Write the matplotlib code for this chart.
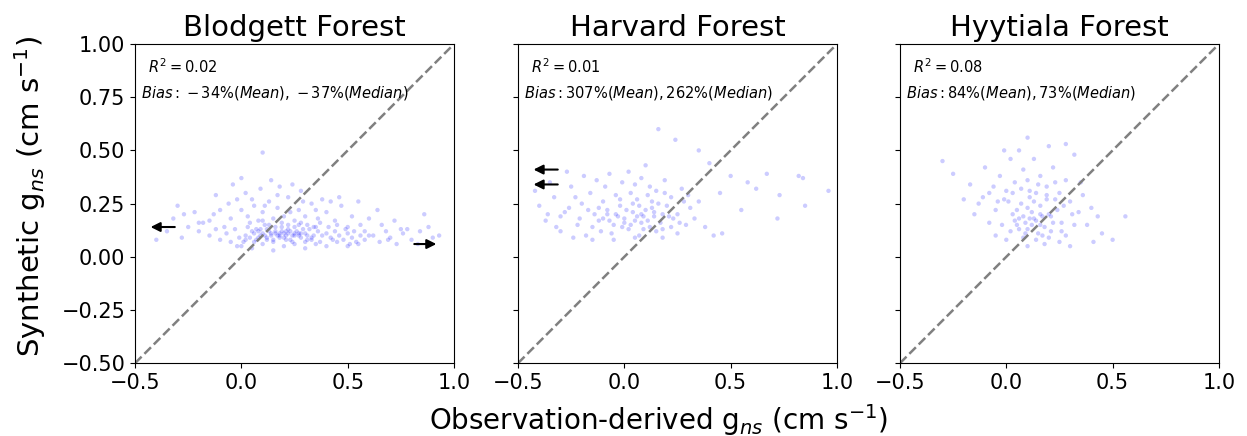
import numpy as np
import matplotlib
matplotlib.use("Agg")
import matplotlib.pyplot as plt

# サイト名と統計値
sites = ["Blodgett Forest", "Harvard Forest", "Hyytiala Forest"]
r2_labels = ["0.02", "0.01", "0.08"]
bias_labels = [r"\;{-}\,34\%(Mean),\;{-}\,37\%(Median)",
               r"307\%(Mean), 262\%(Median)",
               r"84\%(Mean), 73\%(Median)"]

# Blodgett: 観測由来 gns と合成 gns (目視で推定した点)
blodgett_x = [0.02, 0.05, 0.08, 0.10, 0.12, 0.14, 0.16, 0.18, 0.20, 0.22, 0.24, 0.26, 0.28, 0.30, 0.32, 0.34,
              0.03, 0.07, 0.11, 0.15, 0.19, 0.23, 0.27, 0.31, 0.35, 0.01, 0.06, 0.09, 0.13, 0.17, 0.21, 0.25,
              0.29, 0.33, 0.04, 0.12, 0.20, 0.28, 0.36, 0.38, 0.40, 0.42, 0.44, 0.46, 0.48, 0.50, 0.52, 0.54,
              0.56, 0.58,
              -0.05, 0.00, 0.03, 0.06, 0.08, 0.10, 0.13, 0.15, 0.17, 0.20, 0.22, 0.25, 0.27, 0.30, 0.33, 0.36,
              0.40, 0.44, 0.47, 0.52, 0.56, 0.60, 0.02, 0.09, 0.18, -0.02, -0.10, -0.15, -0.08, 0.28, 0.38,
              0.46, 0.55, 0.64, -0.12, -0.04, 0.14, 0.24, 0.10, 0.00,
              -0.35, -0.32, -0.28, -0.25, -0.22, -0.20, -0.18, -0.15, -0.12, -0.10, -0.07, -0.05, -0.03, -0.02,
              -0.40, -0.30, -0.27,
              0.00, 0.05, 0.10, 0.15, 0.20, 0.25, 0.30, 0.35, 0.40, 0.45, 0.50, 0.55,
              0.62, 0.65, 0.68, 0.70, 0.73, 0.76, 0.80, 0.84, 0.86, 0.90, 0.93, 0.66, 0.72, 0.78,
              0.18, 0.21, 0.23, 0.19, 0.22, 0.16, 0.25, 0.14, 0.27, 0.11, 0.08, 0.31,
              0.04, 0.07, 0.10, 0.13, 0.16, 0.19, 0.22, 0.25, 0.28, 0.31, 0.34, 0.37, 0.41, 0.45, 0.49, 0.53,
              -0.01, 0.02, 0.06, 0.09, 0.12, 0.15, 0.18, 0.21, 0.24, 0.27, 0.30, 0.33, 0.37, 0.43, 0.51, 0.60,
              -0.20, -0.13, -0.06, 0.05, 0.11, 0.17, 0.23, 0.29, 0.35, 0.42, 0.50, 0.58, 0.69, 0.75, 0.83, 0.88]
blodgett_y = [0.10, 0.12, 0.09, 0.11, 0.13, 0.10, 0.12, 0.09, 0.11, 0.13, 0.10, 0.12, 0.09, 0.11, 0.13, 0.10,
              0.14, 0.08, 0.15, 0.08, 0.14, 0.08, 0.15, 0.08, 0.14, 0.07, 0.11, 0.13, 0.12, 0.10, 0.12, 0.11,
              0.13, 0.09, 0.09, 0.09, 0.09, 0.11, 0.12, 0.10, 0.11, 0.09, 0.12, 0.10, 0.08, 0.11, 0.09, 0.07,
              0.10, 0.08,
              0.18, 0.22, 0.19, 0.24, 0.17, 0.21, 0.26, 0.18, 0.23, 0.19, 0.28, 0.17, 0.22, 0.19, 0.25, 0.18,
              0.21, 0.17, 0.24, 0.19, 0.15, 0.18, 0.30, 0.32, 0.33, 0.27, 0.22, 0.17, 0.14, 0.31, 0.27,
              0.28, 0.26, 0.22, 0.29, 0.34, 0.36, 0.34, 0.49, 0.37,
              0.12, 0.18, 0.09, 0.14, 0.21, 0.12, 0.16, 0.10, 0.13, 0.08, 0.11, 0.07, 0.13, 0.05,
              0.08, 0.24, 0.20,
              0.05, 0.04, 0.06, 0.03, 0.05, 0.06, 0.04, 0.06, 0.05, 0.07, 0.05, 0.06,
              0.10, 0.07, 0.12, 0.09, 0.06, 0.11, 0.08, 0.12, 0.20, 0.09, 0.10, 0.15, 0.17, 0.13,
              0.11, 0.10, 0.12, 0.12, 0.11, 0.11, 0.10, 0.11, 0.11, 0.10, 0.12, 0.10,
              0.16, 0.13, 0.17, 0.15, 0.14, 0.16, 0.15, 0.14, 0.16, 0.15, 0.14, 0.16, 0.14, 0.15, 0.13, 0.12,
              0.09, 0.08, 0.07, 0.10, 0.08, 0.07, 0.10, 0.08, 0.07, 0.10, 0.07, 0.08, 0.07, 0.08, 0.06, 0.10,
              0.16, 0.20, 0.25, 0.27, 0.24, 0.29, 0.21, 0.26, 0.22, 0.26, 0.14, 0.12, 0.08, 0.13, 0.06, 0.14]

# Harvard
harvard_x = [-0.08, -0.05, -0.02, 0.00, 0.02, 0.04, 0.06, 0.08, 0.10, 0.12, 0.14, 0.16, -0.12, -0.10, -0.06,
             0.03, 0.07, 0.11, 0.15, 0.18, -0.03, 0.05, 0.09, 0.13, 0.01, -0.01, 0.07, 0.17, 0.20, 0.22,
             -0.40, -0.37, -0.33, -0.30, -0.28, -0.25, -0.22, -0.20, -0.18, -0.16, -0.14, -0.13, -0.11, -0.09,
             -0.07, -0.04, -0.01, 0.02, 0.05, 0.08, 0.12, 0.15, 0.19, 0.22, 0.25, 0.27, 0.29, 0.31, 0.33, 0.35,
             -0.35, -0.27, -0.19, -0.24, -0.15, -0.05, 0.05, 0.18, 0.25, 0.38, 0.42, 0.46, -0.42, 0.10,
             0.16, 0.24, 0.35, 0.40, 0.50, 0.58, 0.67, 0.73, 0.82, 0.84, 0.96, 0.85, 0.55, 0.62, 0.45, 0.72,
             -0.30, -0.26, -0.21, -0.17, -0.12, -0.07, -0.02, 0.03, 0.08, 0.13, 0.18, 0.23, 0.28, -0.23, -0.08,
             0.00, 0.09, 0.14, -0.15, -0.04, 0.04, 0.11, 0.21, 0.30, -0.36, -0.32, 0.26, 0.06, -0.10, 0.19]
harvard_y = [0.20, 0.15, 0.24, 0.18, 0.13, 0.21, 0.27, 0.16, 0.22, 0.14, 0.19, 0.25, 0.17, 0.26, 0.11,
             0.30, 0.10, 0.29, 0.12, 0.20, 0.19, 0.17, 0.19, 0.23, 0.22, 0.14, 0.24, 0.16, 0.24, 0.14,
             0.24, 0.17, 0.28, 0.12, 0.21, 0.33, 0.15, 0.25, 0.10, 0.30, 0.20, 0.36, 0.12, 0.33,
             0.39, 0.29, 0.35, 0.40, 0.34, 0.37, 0.33, 0.31, 0.36, 0.28, 0.20, 0.32, 0.15, 0.23, 0.18, 0.26,
             0.35, 0.40, 0.38, 0.09, 0.08, 0.08, 0.09, 0.09, 0.11, 0.14, 0.10, 0.11, 0.31, 0.43,
             0.60, 0.55, 0.50, 0.44, 0.38, 0.35, 0.39, 0.29, 0.38, 0.37, 0.31, 0.24, 0.22, 0.32, 0.30, 0.18,
             0.19, 0.23, 0.18, 0.22, 0.23, 0.17, 0.27, 0.15, 0.20, 0.26, 0.13, 0.18, 0.26, 0.28, 0.22,
             0.16, 0.13, 0.21, 0.14, 0.20, 0.25, 0.17, 0.19, 0.29, 0.20, 0.14, 0.16, 0.19, 0.18, 0.30]

# Hyytiala
hyytiala_x = [0.05, 0.08, 0.10, 0.12, 0.14, 0.16, 0.18, 0.20, 0.07, 0.11, 0.15, 0.22, 0.03, 0.09, 0.13, 0.17,
              0.06, 0.19, 0.24, 0.01, 0.10, 0.14, 0.21, 0.04, 0.12, 0.16,
              -0.30, -0.25, -0.20, -0.17, -0.13, -0.10, -0.08, -0.05, -0.03, 0.00, 0.02, 0.04, 0.06, 0.08,
              0.10, 0.13, 0.16, 0.19, 0.22, 0.25, 0.28, 0.30, 0.32, 0.34, 0.36, 0.38, 0.40, 0.43, 0.45, 0.50,
              0.56, 0.28, 0.25, 0.18, 0.10, 0.00, -0.05, -0.08, 0.28, 0.20, -0.01, 0.10, -0.15, 0.32, 0.26,
              0.23, 0.35, -0.02, 0.30, 0.41,
              -0.11, -0.06, -0.01, 0.03, 0.07, 0.11, 0.15, 0.19, 0.23, 0.27, 0.31, 0.05, 0.09, 0.13, 0.17,
              0.02, 0.08, 0.14, 0.20, 0.26, -0.04, 0.11, 0.06, 0.16, 0.21]
hyytiala_y = [0.15, 0.19, 0.13, 0.21, 0.17, 0.24, 0.14, 0.20, 0.25, 0.28, 0.11, 0.16, 0.20, 0.16, 0.18, 0.19,
              0.13, 0.27, 0.22, 0.26, 0.23, 0.30, 0.12, 0.17, 0.15, 0.20,
              0.45, 0.39, 0.27, 0.34, 0.25, 0.42, 0.30, 0.22, 0.38, 0.31, 0.46, 0.35, 0.50, 0.41,
              0.36, 0.46, 0.38, 0.33, 0.42, 0.30, 0.36, 0.26, 0.48, 0.21, 0.29, 0.15, 0.23, 0.19, 0.11, 0.08,
              0.19, 0.10, 0.07, 0.06, 0.05, 0.08, 0.10, 0.16, 0.53, 0.52, 0.50, 0.56, 0.20, 0.15, 0.16,
              0.27, 0.35, 0.15, 0.05, 0.07,
              0.28, 0.33, 0.27, 0.30, 0.32, 0.31, 0.34, 0.29, 0.35, 0.24, 0.20, 0.22, 0.11, 0.26, 0.10,
              0.12, 0.09, 0.08, 0.09, 0.12, 0.26, 0.18, 0.18, 0.15, 0.19]

xs = [blodgett_x, harvard_x, hyytiala_x]
ys = [blodgett_y, harvard_y, hyytiala_y]

# 範囲外の点を示す矢印 (始点x, 終点x, y)
arrows = [[(-0.30, -0.44, 0.14), (0.80, 0.93, 0.06)],
          [(-0.30, -0.44, 0.41), (-0.30, -0.44, 0.34)],
          []]

fig = plt.figure(figsize=(12.47, 4.36), dpi=100)
lefts = [0.1083, 0.4154, 0.7217]
for i in range(3):
    ax = fig.add_axes([lefts[i], 0.167, 0.2558, 0.732])
    ax.scatter(xs[i], ys[i], s=10, color="blue", alpha=0.2, edgecolors="none")
    ax.plot([-0.5, 1.0], [-0.5, 1.0], "--", color="gray", lw=1.8)
    for x0, x1, yy in arrows[i]:
        ax.annotate("", xy=(x1, yy), xytext=(x0, yy),
                    arrowprops=dict(arrowstyle="-|>", color="k", lw=1.5, mutation_scale=14))
    ax.text(0.04, 0.93, r"$R^2 = %s$" % r2_labels[i], transform=ax.transAxes,
            fontsize=10.5, va="center")
    ax.text(0.02, 0.847, r"$Bias: %s$" % bias_labels[i], transform=ax.transAxes,
            fontsize=10.5, va="center")
    ax.set_xlim(-0.5, 1.0)
    ax.set_ylim(-0.5, 1.0)
    ax.set_xticks([-0.5, 0.0, 0.5, 1.0])
    ax.set_yticks([-0.5, -0.25, 0.0, 0.25, 0.5, 0.75, 1.0])
    ax.tick_params(labelsize=15)
    if i > 0:
        ax.set_yticklabels([])
    ax.set_title(sites[i], fontsize=21)

fig.text(0.024, 0.55, r"Synthetic g$_{ns}$ (cm s$^{-1}$)", rotation=90,
         fontsize=21, va="center", ha="center")
fig.text(0.528, 0.037, r"Observation-derived g$_{ns}$ (cm s$^{-1}$)",
         fontsize=20, va="center", ha="center")

fig.savefig("out.png", dpi=100)
